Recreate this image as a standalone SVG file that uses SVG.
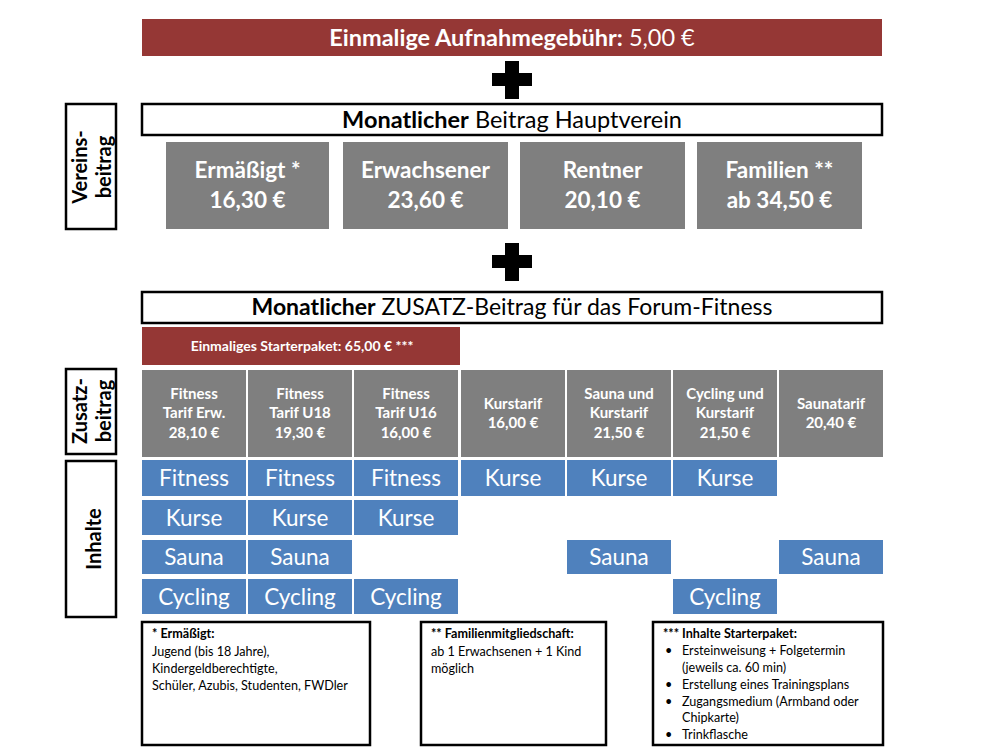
<svg xmlns="http://www.w3.org/2000/svg" width="1000" height="750" viewBox="0 0 1000 750">
<style>
text{font-family:Lato,"Open Sans","Liberation Sans",sans-serif}
.red{fill:#953735}
.gray{fill:#7f7f7f}
.blue{fill:#4f81bd}
.frame{fill:#fff;stroke:#000;stroke-width:2.5}
.wt{fill:#fff;text-anchor:middle}
.big{font-size:23.5px}
.gb{font-size:22.5px;font-weight:bold}
.tb{font-size:15px;font-weight:bold}
.bl{font-size:22.5px}
.lab{font-size:20px;font-weight:bold;fill:#000;text-anchor:middle}
.fn{font-size:12.6px;fill:#000}
.b{font-weight:bold}
</style>
<rect width="1000" height="750" fill="#fff"/>

<g id="aufnahme">
<rect class="red" x="142" y="19" width="740" height="37"/>
<text class="wt big" x="512" y="46"><tspan class="b">Einmalige Aufnahmegebühr:</tspan> 5,00 €</text>
</g>
<g id="plus1"><rect x="492" y="73" width="40" height="13" fill="#000"/><rect x="505" y="61" width="14" height="38" fill="#000"/></g>

<g id="label-verein">
<rect class="frame" x="66" y="104" width="50" height="125"/>
<text class="lab" transform="translate(87,167) rotate(-90)">Vereins-</text>
<text class="lab" transform="translate(111,167) rotate(-90)">beitrag</text>
</g>
<g id="haupt">
<rect class="frame" x="142" y="104" width="740" height="31"/>
<text class="big" x="512" y="128" text-anchor="middle"><tspan class="b">Monatlicher</tspan> Beitrag Hauptverein</text>
</g>
<g id="ermaessigt"><rect class="gray" x="166" y="142" width="163" height="87"/><text class="wt gb" x="247.5" y="178">Ermäßigt *</text><text class="wt gb" x="247.5" y="208">16,30 €</text></g>
<g id="erwachsener"><rect class="gray" x="343" y="142" width="165" height="87"/><text class="wt gb" x="425.5" y="178">Erwachsener</text><text class="wt gb" x="425.5" y="208">23,60 €</text></g>
<g id="rentner"><rect class="gray" x="520" y="142" width="165" height="87"/><text class="wt gb" x="602.5" y="178">Rentner</text><text class="wt gb" x="602.5" y="208">20,10 €</text></g>
<g id="familien"><rect class="gray" x="697" y="142" width="165" height="87"/><text class="wt gb" x="779.5" y="178">Familien **</text><text class="wt gb" x="779.5" y="208">ab 34,50 €</text></g>

<g id="plus2"><rect x="492" y="255" width="40" height="13" fill="#000"/><rect x="505" y="243" width="14" height="38" fill="#000"/></g>

<g id="zusatz">
<rect class="frame" x="142" y="292" width="740" height="31"/>
<text x="512" y="315" font-size="23" text-anchor="middle"><tspan class="b">Monatlicher</tspan> ZUSATZ-Beitrag für das Forum-Fitness</text>
</g>
<g id="starter">
<rect class="red" x="142" y="327" width="318" height="38"/>
<text class="wt" x="302" y="351" font-size="14" font-weight="bold">Einmaliges Starterpaket: 65,00 € ***</text>
</g>

<g id="label-zusatz">
<rect class="frame" x="66" y="369" width="50" height="85"/>
<text class="lab" transform="translate(87,411) rotate(-90)">Zusatz-</text>
<text class="lab" transform="translate(111,411) rotate(-90)">beitrag</text>
</g>

<g id="t1"><rect class="gray" x="142" y="370" width="104" height="87"/><text class="wt tb" x="194" y="399">Fitness</text><text class="wt tb" x="194" y="418">Tarif Erw.</text><text class="wt tb" x="194" y="438">28,10 €</text></g>
<g id="t2"><rect class="gray" x="248" y="370" width="104" height="87"/><text class="wt tb" x="300" y="399">Fitness</text><text class="wt tb" x="300" y="418">Tarif U18</text><text class="wt tb" x="300" y="438">19,30 €</text></g>
<g id="t3"><rect class="gray" x="354" y="370" width="104" height="87"/><text class="wt tb" x="406" y="399">Fitness</text><text class="wt tb" x="406" y="418">Tarif U16</text><text class="wt tb" x="406" y="438">16,00 €</text></g>
<g id="t4"><rect class="gray" x="461" y="370" width="104" height="87"/><text class="wt tb" x="513" y="409">Kurstarif</text><text class="wt tb" x="513" y="428">16,00 €</text></g>
<g id="t5"><rect class="gray" x="567" y="370" width="104" height="87"/><text class="wt tb" x="619" y="399">Sauna und</text><text class="wt tb" x="619" y="418">Kurstarif</text><text class="wt tb" x="619" y="438">21,50 €</text></g>
<g id="t6"><rect class="gray" x="673" y="370" width="104" height="87"/><text class="wt tb" x="725" y="399">Cycling und</text><text class="wt tb" x="725" y="418">Kurstarif</text><text class="wt tb" x="725" y="438">21,50 €</text></g>
<g id="t7"><rect class="gray" x="779" y="370" width="104" height="87"/><text class="wt tb" x="831" y="409">Saunatarif</text><text class="wt tb" x="831" y="428">20,40 €</text></g>

<g id="label-inhalte">
<rect class="frame" x="66" y="461" width="50" height="156"/>
<text class="lab" transform="translate(101,539) rotate(-90)">Inhalte</text>
</g>

<g id="inhalte">
<g><rect class="blue" x="142" y="460" width="104" height="36"/><text class="wt bl" x="194" y="486">Fitness</text></g>
<g><rect class="blue" x="248" y="460" width="104" height="36"/><text class="wt bl" x="300" y="486">Fitness</text></g>
<g><rect class="blue" x="354" y="460" width="104" height="36"/><text class="wt bl" x="406" y="486">Fitness</text></g>
<g><rect class="blue" x="461" y="460" width="104" height="36"/><text class="wt bl" x="513" y="486">Kurse</text></g>
<g><rect class="blue" x="567" y="460" width="104" height="36"/><text class="wt bl" x="619" y="486">Kurse</text></g>
<g><rect class="blue" x="673" y="460" width="104" height="36"/><text class="wt bl" x="725" y="486">Kurse</text></g>

<g><rect class="blue" x="142" y="500" width="104" height="35"/><text class="wt bl" x="194" y="526">Kurse</text></g>
<g><rect class="blue" x="248" y="500" width="104" height="35"/><text class="wt bl" x="300" y="526">Kurse</text></g>
<g><rect class="blue" x="354" y="500" width="104" height="35"/><text class="wt bl" x="406" y="526">Kurse</text></g>

<g><rect class="blue" x="142" y="540" width="104" height="34"/><text class="wt bl" x="194" y="565">Sauna</text></g>
<g><rect class="blue" x="248" y="540" width="104" height="34"/><text class="wt bl" x="300" y="565">Sauna</text></g>
<g><rect class="blue" x="567" y="540" width="104" height="34"/><text class="wt bl" x="619" y="565">Sauna</text></g>
<g><rect class="blue" x="779" y="540" width="104" height="34"/><text class="wt bl" x="831" y="565">Sauna</text></g>

<g><rect class="blue" x="142" y="579" width="104" height="35"/><text class="wt bl" x="194" y="605">Cycling</text></g>
<g><rect class="blue" x="248" y="579" width="104" height="35"/><text class="wt bl" x="300" y="605">Cycling</text></g>
<g><rect class="blue" x="354" y="579" width="104" height="35"/><text class="wt bl" x="406" y="605">Cycling</text></g>
<g><rect class="blue" x="673" y="579" width="104" height="35"/><text class="wt bl" x="725" y="605">Cycling</text></g>
</g>

<g id="note1">
<rect class="frame" x="142" y="622" width="228" height="123"/>
<text class="fn" x="152" y="638"><tspan class="b">* Ermäßigt:</tspan></text>
<text class="fn" x="152" y="656">Jugend (bis 18 Jahre),</text>
<text class="fn" x="152" y="673">Kindergeldberechtigte,</text>
<text class="fn" x="152" y="690">Schüler, Azubis, Studenten,  FWDler</text>
</g>
<g id="note2">
<rect class="frame" x="421" y="622" width="185" height="123"/>
<text class="fn" x="431" y="638"><tspan class="b">** Familienmitgliedschaft:</tspan></text>
<text class="fn" x="431" y="656">ab 1 Erwachsenen + 1 Kind</text>
<text class="fn" x="431" y="673">möglich</text>
</g>
<g id="note3">
<rect class="frame" x="653" y="622" width="230" height="123"/>
<text class="fn" x="663" y="638"><tspan class="b">*** Inhalte Starterpaket:</tspan></text>
<text class="fn" x="665" y="655">•</text><text class="fn" x="682" y="655">Ersteinweisung + Folgetermin</text>
<text class="fn" x="682" y="672">(jeweils ca. 60 min)</text>
<text class="fn" x="665" y="689">•</text><text class="fn" x="682" y="689">Erstellung eines Trainingsplans</text>
<text class="fn" x="665" y="706">•</text><text class="fn" x="682" y="706">Zugangsmedium (Armband oder</text>
<text class="fn" x="682" y="722">Chipkarte)</text>
<text class="fn" x="665" y="739">•</text><text class="fn" x="682" y="739">Trinkflasche</text>
</g>
</svg>
